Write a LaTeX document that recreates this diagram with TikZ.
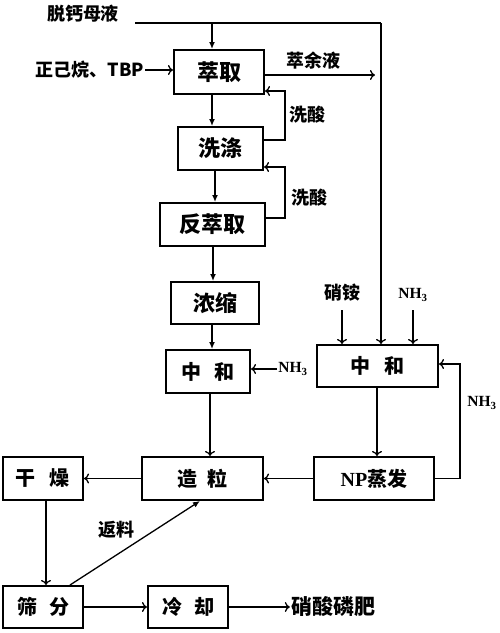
\documentclass[tikz,border=0pt]{standalone}
\usepackage{fontspec}
\setmainfont{Liberation Serif}
\newfontfamily\cjk{Noto Sans CJK SC}
\usetikzlibrary{arrows.meta}
\tikzset{
  box/.style={draw, line width=2pt, inner sep=0pt, font=\cjk\bfseries\fontsize{22}{24}\selectfont},
  sbox/.style={box, font=\cjk\bfseries\fontsize{20}{22}\selectfont},
  lbl/.style={inner sep=1pt, font=\cjk\bfseries\fontsize{18}{20}\selectfont},
  nh/.style={inner sep=1pt, font=\bfseries\fontsize{15.5}{17}\selectfont},
  ln/.style={line width=1.3pt},
  arr/.style={ln, -{To[length=5pt,width=10pt,line width=1.3pt]}},
  farr/.style={ln, -{Latex[length=7pt,width=6pt]}}
}
\begin{document}
\begin{tikzpicture}[x=1pt,y=-1pt]
\useasboundingbox (0,0) rectangle (500,633);
% boxes
\node[box, minimum width=90pt, minimum height=44pt] (cq) at (219,72) {萃取};
\node[box, minimum width=85pt, minimum height=43pt] (xd) at (220.5,148.5) {洗涤};
\node[box, minimum width=105pt, minimum height=43pt] (fcq) at (212.5,224.5) {反萃取};
\node[box, minimum width=88pt, minimum height=42pt] (ns) at (215,303) {浓缩};
\node[sbox, minimum width=84pt, minimum height=43pt] (zh1) at (208,371.5) {中\hspace{0.7em}和};
\node[sbox, minimum width=121pt, minimum height=42pt] (zh2) at (377.5,366) {中\hspace{0.7em}和};
\node[sbox, minimum width=121pt, minimum height=43pt] (zl) at (202.5,478.5) {造\hspace{0.5em}粒};
\node[sbox, minimum width=120pt, minimum height=43pt] (np) at (374,478.5) {{\rmfamily NP}蒸发};
\node[sbox, minimum width=80pt, minimum height=43pt] (gz) at (43,478.5) {干\hspace{0.7em}燥};
\node[sbox, minimum width=80pt, minimum height=42pt] (sf) at (43,607) {筛\hspace{0.6em}分};
\node[sbox, minimum width=80pt, minimum height=42pt] (lq) at (188,607) {冷\hspace{0.6em}却};
% labels
\node[lbl] (tgmy) at (83,14) {脱钙母液};
\node[lbl] (zjw) at (90,70) {正己烷、TBP};
\node[lbl] (cyy) at (313,61) {萃余液};
\node[lbl] (xs1) at (307,115) {洗酸};
\node[lbl] (xs2) at (309,198) {洗酸};
\node[nh] (nh1) at (293,369) {NH\textsubscript{3}};
\node[lbl] (xa) at (342,293) {硝铵};
\node[nh] (nh2) at (413,295) {NH\textsubscript{3}};
\node[nh] (nh3) at (482,403) {NH\textsubscript{3}};
\node[lbl] (fl) at (116,530) {返料};
\node[lbl, font=\cjk\bfseries\fontsize{21}{23}\selectfont] (xslf) at (333,607) {硝酸磷肥};
% coordinates
\coordinate (tl) at (135,23);
\coordinate (tr) at (381,23);
\coordinate (j1) at (212,23);
\coordinate (cyyend) at (375,75);
% top feed
\draw[ln] (tl) -- (tr);
\draw[arr] (tr) -- (tr |- zh2.north);
\draw[farr] (j1) -- (j1 |- cq.north);
\draw[arr] (zjw.east) -- (zjw.east -| cq.west);
\draw[arr] (cq.east |- cyyend) -- (cyyend);
% main chain
\draw[farr] (cq.south -| 212,0) -- (xd.north -| 212,0);
\draw[farr] (xd.south -| 215,0) -- (fcq.north -| 215,0);
\draw[farr] (fcq.south -| 213,0) -- (ns.north -| 213,0);
\draw[farr] (ns.south -| 212,0) -- (zh1.north -| 212,0);
% washing loops
\draw[arr] (xd.east |- 0,140) -| (285,91) -- (cq.east |- 0,91);
\draw[arr] (fcq.east |- 0,218) -| (285,167) -- (xd.east |- 0,167);
% neutralisation inputs
\draw[arr] (nh1.west) -- (zh1.east |- nh1.west);
\draw[arr] (xa.south |- 0,310) -- (xa.south |- zh2.north);
\draw[arr] (nh2.south |- 0,310) -- (nh2.south |- zh2.north);
% to granulation
\draw[arr] (zh2.south -| 377,0) -- (np.north -| 377,0);
\draw[arr] (zh1.south -| 210,0) -- (zl.north -| 210,0);
\draw[arr] (np.west) -- (zl.east);
\draw[arr] (zl.west) -- (gz.east);
\draw[arr] (np.east) -- (460,478.5) -- (460,364) -- (zh2.east |- 0,364);
\draw[arr] (gz.south -| 46,0) -- (sf.north -| 46,0);
\draw[ln, -{Latex[length=7pt,width=6pt]}] (sf.north -| 70,0) -- (zl.south -| 200,0);
\draw[arr] (sf.east) -- (lq.west);
\draw[arr] (lq.east) -- (xslf.west);
\end{tikzpicture}
\end{document}
